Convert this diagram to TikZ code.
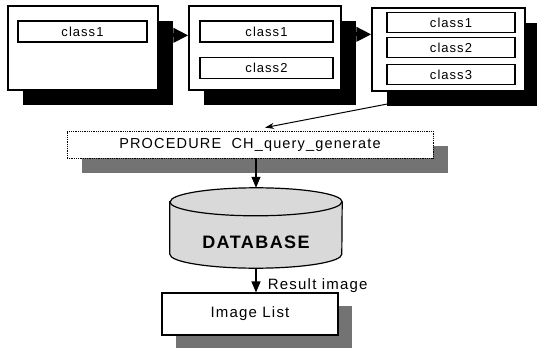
\documentclass[tikz,border=0pt]{standalone}
\usepackage{fontspec}
\setmainfont{Liberation Sans}[LetterSpace=8]
\usetikzlibrary{shapes.geometric, positioning, calc, shadows, arrows.meta}
\tikzset{%
  classwin/.style = {rectangle, draw, line width=1.3pt, fill=white, inner sep=0pt,
                     minimum height=84pt,
                     drop shadow={shadow xshift=15pt, shadow yshift=-15pt,
                                  fill=black, opacity=1}},
  classbox/.style = {rectangle, draw, line width=1.1pt, fill=white, inner sep=0pt,
                     minimum height=21pt, font=\fontsize{13}{15}\selectfont},
  procbox/.style = {rectangle, draw, densely dotted, line width=0.8pt, fill=white,
                    minimum width=366pt, minimum height=27pt,
                    font=\fontsize{14.5}{16}\selectfont,
                    drop shadow={shadow xshift=15pt, shadow yshift=-15pt,
                                 fill=black!55, opacity=1}},
  store/.style = {draw, line width=1.2pt, fill=black!15},
  storeend/.style = {x radius=86pt, y radius=14pt},
  listbox/.style = {rectangle, draw, line width=1.1pt, fill=white,
                    minimum width=176pt, minimum height=42pt,
                    font=\fontsize{15}{17}\selectfont,
                    drop shadow={shadow xshift=14pt, shadow yshift=-13pt,
                                 fill=black!55, opacity=1}},
  bigarrow/.style = {-{Triangle[length=15pt, width=14pt]}, line width=4pt},
  flow/.style = {-{Triangle[length=11pt, width=9pt]}, line width=1.2pt},
  thinflow/.style = {-{Stealth[length=9pt, width=6pt]}, line width=1pt}
  }

\begin{document}
\begin{tikzpicture}[x=1pt, y=-1pt]
  \useasboundingbox (0,0) rectangle (537,350);

  % three class windows
  \node (winA) [classwin, minimum width=150pt] at (83,48) {};
  \node (winB) [classwin, minimum width=152pt] at (265,48) {};
  \node (winC) [classwin, minimum width=153pt, minimum height=83pt] at (448.5,49.5) {};

  \node (a1) [classbox, minimum width=129pt] at (82.5,31.5) {class1};
  \node (b1) [classbox, minimum width=133pt] at (266.5,31.5) {class1};
  \node (b2) [classbox, minimum width=133pt, below = 14pt of b1] {class2};
  \node (c1) [classbox, minimum width=128pt, minimum height=20pt] at (451,22.5) {class1};
  \node (c2) [classbox, minimum width=128pt, minimum height=20pt, below = 4pt of c1] {class2};
  \node (c3) [classbox, minimum width=128pt, minimum height=20pt, below = 6pt of c2] {class3};

  \draw[bigarrow] ($(winA.north east)+(0,30)$) -- ($(winB.north west)+(0,30)$);
  \draw[bigarrow] ($(winB.north east)+(0,29)$) -- ($(winC.north west)+(0,27)$);

  % query, database, result
  \node (proc) [procbox] at (250,144.5) {PROCEDURE\ \ CH\_query\_generate};
  \node (db) [minimum width=172pt, minimum height=80pt, inner sep=0pt] at (256,228) {};
  \path[store] ($(db.north west)+(0pt,-14pt)$) -- ($(db.south west)+(0pt,14pt)$)
    arc[start angle=180, end angle=360, storeend]
    -- ($(db.north east)+(0pt,-14pt)$)
    arc[start angle=0, end angle=180, storeend] -- cycle;
  \draw[store, fill=none] ($(db.north west)+(0pt,-14pt)$)
    arc[start angle=180, end angle=360, storeend];
  \node (dbtxt) [font=\fontsize{18}{20}\selectfont\bfseries] at ($(db.center)+(0,14)$) {DATABASE};
  \node (imgs) [listbox] at (250,314) {Image List};

  \draw[thinflow] ($(winC.south west)+(23,11)$) -- ($(proc.north)+(15,-3)$);
  \draw[flow] (proc.south -| db.north) -- (db.north);
  \draw[flow] (db.south) -- (db.south |- imgs.north)
    node [pos=0.7, right=8pt, font=\fontsize{15}{16}\selectfont] (reslbl) {Result image};
\end{tikzpicture}
\end{document}
